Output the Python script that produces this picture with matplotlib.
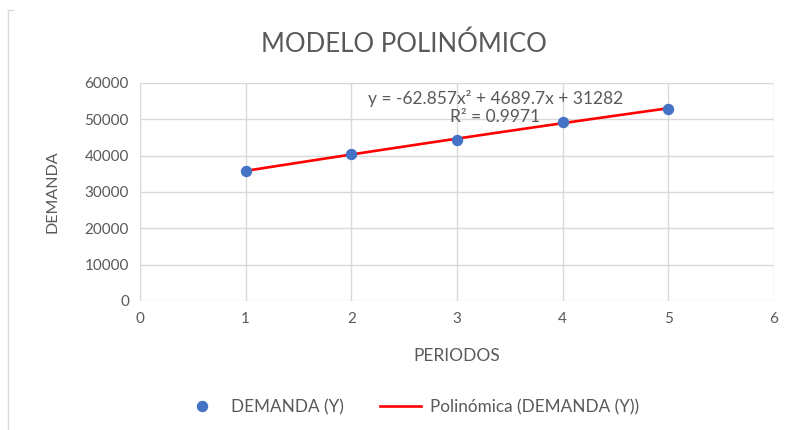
import matplotlib.pyplot as plt
import numpy as np

plt.rcParams['font.family'] = ['Lato', 'DejaVu Sans']

periodos = [1, 2, 3, 4, 5]
demanda = [35800, 40500, 44200, 49400, 52900]
ecuacion = "y = -62.857x² + 4689.7x + 31282\nR² = 0.9971"
gris = '#595959'

fig = plt.figure(figsize=(7.92, 4.30), dpi=100)
ax = fig.add_axes([0.1768, 0.3, 0.8005, 0.507])

# tendencia polinomica de grado 2
coef = np.polyfit(periodos, demanda, 2)
xs = np.linspace(periodos[0], periodos[-1], 50)
ax.plot(xs, np.polyval(coef, xs), color='#FF0000', lw=1.9, zorder=3,
        label='Polinómica (DEMANDA (Y))')
ax.plot(periodos, demanda, 'o', color='#4472C4', ms=7.2, zorder=4,
        label='DEMANDA (Y)')

ax.set_xlim(0, 6)
ax.set_ylim(0, 60000)
ax.set_xticks(range(0, 7))
ax.set_yticks(range(0, 60001, 10000))
ax.grid(True, color='#d9d9d9', lw=1)
ax.set_axisbelow(True)
for s in ax.spines.values():
    s.set_visible(False)
ax.tick_params(length=0, labelsize=11, colors=gris, pad=8)

ax.set_xlabel('PERIODOS', fontsize=12.5, color=gris, labelpad=16)
ax.set_ylabel('DEMANDA', fontsize=11.5, color=gris, labelpad=18)
fig.text(0.51, 0.897, 'MODELO POLINÓMICO', ha='center', va='center',
         fontsize=18.5, color=gris)

ax.text(3.36, 53200, ecuacion, ha='center', va='center', multialignment='center',
        fontsize=12.5, color=gris, linespacing=1.15)

h, l = ax.get_legend_handles_labels()
fig.legend(h[::-1], l[::-1], loc='center', bbox_to_anchor=(0.518, 0.053), ncol=2,
           frameon=False, fontsize=12.3, labelcolor=gris, handlelength=2.4,
           handletextpad=0.5, columnspacing=2.1)

# borde del grafico
fig.add_artist(plt.Line2D([0.0101, 0.0101], [0.0, 0.977], color='#d9d9d9', lw=1))
fig.add_artist(plt.Line2D([0.0101, 0.017], [0.977, 0.977], color='#d9d9d9', lw=1))

fig.savefig('out.png', dpi=100)
